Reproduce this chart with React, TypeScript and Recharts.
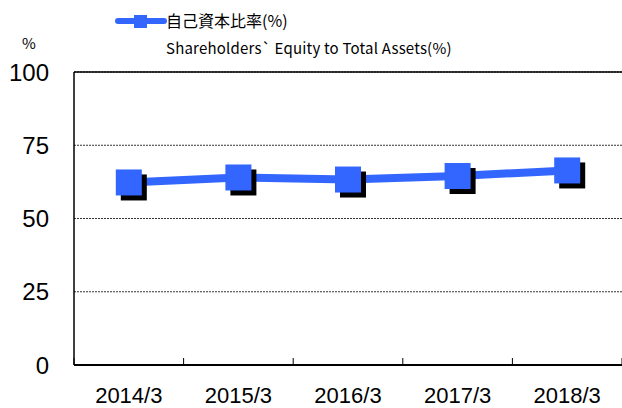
import { LineChart, Line, XAxis, YAxis, CartesianGrid, ReferenceLine } from "recharts";

const years = ["2014/3", "2015/3", "2016/3", "2017/3", "2018/3"];
const equityRatio = [62.3, 64.0, 63.3, 64.5, 66.4];
const yTicks = [0, 25, 50, 75, 100];
// category boundaries, 0 and 5 are the plot edges
const separators = [0, 1, 2, 3, 4, 5];
const seriesNameJa = "自己資本比率(%)";
const seriesNameEn = "Shareholders` Equity to Total Assets(%)";

const BLUE = "#3366ff";
const NARROW = "'Liberation Sans Narrow', 'Arial Narrow', sans-serif";
const CJK = "'Noto Sans CJK JP', sans-serif";

const data = years.map((y, i) => ({ year: y, ratio: equityRatio[i], pos: i + 0.5 }));

const ShadowSquare = (props: any) => {
  const { cx, cy, index } = props;
  if (cx == null || cy == null) return <g key={index} />;
  const s = 26;
  return (
    <g key={`dot-${index}`}>
      <rect x={cx - s / 2 + 5} y={cy - s / 2 + 5} width={s} height={s} fill="#000" />
      <rect x={cx - s / 2} y={cy - s / 2} width={s} height={s} fill={BLUE} />
    </g>
  );
};

export default function App() {
  return (
    <div style={{ position: "absolute", left: 0, top: 0, width: 622, height: 408, background: "#fff" }}>
      <LineChart
        width={622}
        height={408}
        data={data}
        margin={{ top: 72, right: 0, bottom: 0, left: 0 }}
      >
        <CartesianGrid vertical={false} stroke="#333" strokeDasharray="2 1" />
        <XAxis
          dataKey="year"
          scale="band"
          height={43}
          axisLine={{ stroke: "#000", strokeWidth: 2 }}
          tickLine={false}
          tickSize={0}
          tickMargin={22}
          tick={{ fill: "#000", fontSize: 22, fontFamily: NARROW }}
        />
        <XAxis
          xAxisId="sep"
          dataKey="pos"
          type="number"
          domain={[0, 5]}
          allowDataOverflow
          ticks={separators}
          interval={0}
          mirror
          height={10}
          axisLine={false}
          tickSize={7}
          tickLine={{ stroke: "#000" }}
          tick={() => <g />}
        />
        <YAxis
          domain={[0, 100]}
          ticks={yTicks}
          width={74}
          axisLine={{ stroke: "#000", strokeWidth: 1.5 }}
          tickLine={false}
          tickSize={0}
          tickMargin={25}
          interval={0}
          tick={{ fill: "#000", fontSize: 24, fontFamily: NARROW }}
        />
        <ReferenceLine y={100} stroke="#000" strokeWidth={1.5} />
        <Line
          dataKey="ratio"
          stroke={BLUE}
          strokeWidth={8}
          dot={ShadowSquare}
          activeDot={false}
          isAnimationActive={false}
        />
      </LineChart>
      <div style={{ position: "absolute", left: 22, top: 32, fontSize: 15, fontFamily: CJK, color: "#000" }}>%</div>
      <svg style={{ position: "absolute", left: 115, top: 12 }} width={52} height={18}>
        <line x1={3} y1={9} x2={49} y2={9} stroke={BLUE} strokeWidth={6} strokeLinecap="round" />
        <rect x={19} y={3} width={13} height={13} fill={BLUE} />
      </svg>
      <div style={{ position: "absolute", left: 166, top: 8, fontSize: 16, fontFamily: CJK, color: "#000", whiteSpace: "nowrap" }}>
        {seriesNameJa}
      </div>
      <div style={{ position: "absolute", left: 166, top: 37, fontSize: 15, fontFamily: CJK, color: "#000", whiteSpace: "nowrap", letterSpacing: 0.2 }}>
        {seriesNameEn}
      </div>
    </div>
  );
}
